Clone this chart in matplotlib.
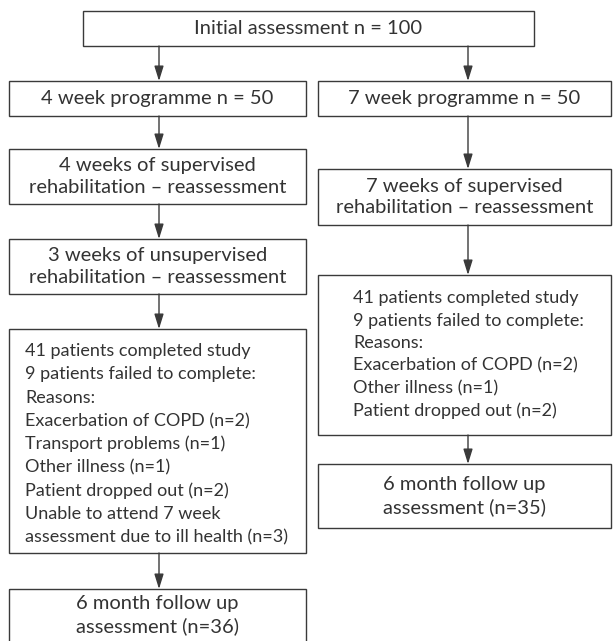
import matplotlib.pyplot as plt
from matplotlib.patches import Rectangle

plt.rcParams['font.family'] = ['Lato', 'DejaVu Sans']

# textos das caixas
initial_txt = "Initial assessment n = 100"
prog_txt = ["4 week programme n = 50", "7 week programme n = 50"]
sup_txt = ["4 weeks of supervised\nrehabilitation \u2013 reassessment",
           "7 weeks of supervised\nrehabilitation \u2013 reassessment"]
unsup_txt = "3 weeks of unsupervised\nrehabilitation \u2013 reassessment"
left_reasons = ["41 patients completed study",
                "9 patients failed to complete:",
                "Reasons:",
                "Exacerbation of COPD (n=2)",
                "Transport problems (n=1)",
                "Other illness (n=1)",
                "Patient dropped out (n=2)",
                "Unable to attend 7 week",
                "assessment due to ill health (n=3)"]
right_reasons = ["41 patients completed study",
                 "9 patients failed to complete:",
                 "Reasons:",
                 "Exacerbation of COPD (n=2)",
                 "Other illness (n=1)",
                 "Patient dropped out (n=2)"]
follow_n = [36, 35]

fig = plt.figure(figsize=(6.13, 6.41), dpi=100)
ax = fig.add_axes([0, 0, 1, 1])
ax.set_xlim(0, 613)
ax.set_ylim(641, 0)
ax.axis('off')

edge = '#3a3a3a'
tcol = '#333333'
fs_c = 14.5   # textos centrados
fs_l = 13     # listas de motivos


def box(x0, y0, x1, y1):
    ax.add_patch(Rectangle((x0, y0), x1 - x0, y1 - y0, fill=False,
                           edgecolor=edge, linewidth=1.0))


def ctext(x0, y0, x1, y1, s):
    ax.text((x0 + x1) / 2, (y0 + y1) / 2, s, ha='center', va='center',
            fontsize=fs_c, color=tcol, linespacing=1.3)


def arrow(x, y0, y1):
    ax.annotate('', xy=(x, y1), xytext=(x, y0),
                arrowprops=dict(arrowstyle='-|>,head_length=0.9,head_width=0.28',
                                color=edge, lw=1.0, shrinkA=0, shrinkB=0))


L0, L1 = 9, 306
R0, R1 = 318, 611
xl, xr = 159, 468

# caixa inicial
box(83, 11, 534, 46)
ctext(83, 11, 534, 46, initial_txt)
arrow(xl, 46, 81)
arrow(xr, 46, 81)

# programas
box(L0, 81, L1, 116)
ctext(L0, 81, L1, 116, prog_txt[0])
box(R0, 81, R1, 116)
ctext(R0, 81, R1, 116, prog_txt[1])
arrow(xl, 116, 149)
arrow(xr, 116, 169)

# supervisionado
box(L0, 149, L1, 204)
ctext(L0, 149, L1, 204, sup_txt[0])
box(R0, 169, R1, 225)
ctext(R0, 169, R1, 225, sup_txt[1])
arrow(xl, 204, 239)
arrow(xr, 225, 275)

# nao supervisionado
box(L0, 239, L1, 294)
ctext(L0, 239, L1, 294, unsup_txt)
arrow(xl, 294, 329)

# caixas de motivos
box(L0, 329, L1, 553)
for i, s in enumerate(left_reasons):
    ax.text(25, 351 + i * 23.3, s, ha='left', va='center', fontsize=fs_l,
            color=tcol)
box(R0, 275, R1, 435)
for i, s in enumerate(right_reasons):
    ax.text(353, 298 + i * 22.6, s, ha='left', va='center', fontsize=fs_l,
            color=tcol)

arrow(xl, 553, 589)
arrow(xr, 435, 464)

# acompanhamento 6 meses
box(L0, 589, L1, 648)
ctext(L0, 589, L1, 641, "6 month follow up\nassessment (n=%d)" % follow_n[0])
box(R0, 464, R1, 528)
ctext(R0, 464, R1, 528, "6 month follow up\nassessment (n=%d)" % follow_n[1])

plt.savefig('out.png', dpi=100)
